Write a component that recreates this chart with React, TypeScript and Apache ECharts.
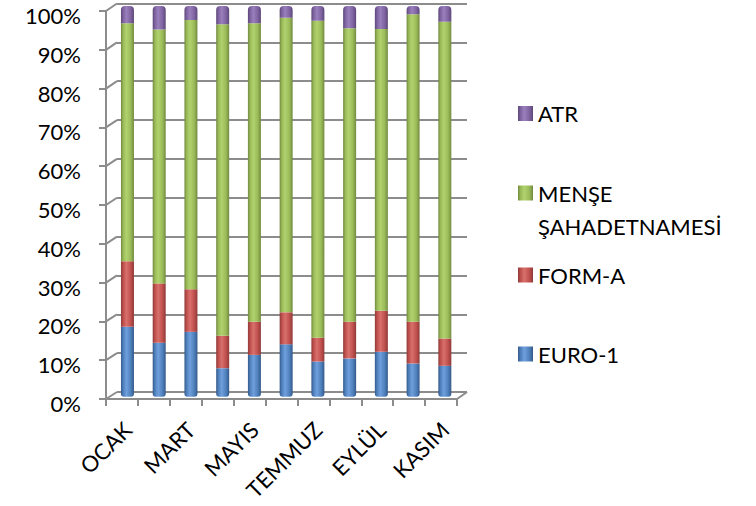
import React, { useEffect, useRef } from "react";
import * as echarts from "echarts";

const categories = ["OCAK", "ŞUBAT", "MART", "NİSAN", "MAYIS", "HAZİRAN", "TEMMUZ", "AĞUSTOS", "EYLÜL", "EKİM", "KASIM"];
const euro1 = [17.9, 13.8, 16.6, 7.3, 10.7, 13.4, 9.0, 9.8, 11.5, 8.5, 7.9];
const formA = [16.8, 15.2, 10.9, 8.3, 8.5, 8.2, 6.1, 9.4, 10.5, 10.7, 7.0];
const mense = [60.9, 65.0, 68.9, 79.7, 76.4, 75.4, 81.1, 75.1, 72.1, 78.7, 81.1];
const atr = [4.4, 6.0, 3.6, 4.7, 4.4, 3.0, 3.8, 5.7, 5.9, 2.1, 4.0];
const yTicks = [0, 10, 20, 30, 40, 50, 60, 70, 80, 90, 100];

const FONT = "Lato";
const FS = 22;
const GRIDC = "#8c8c8c";

function cyl(dark: string, light: string, base: string) {
  return new echarts.graphic.LinearGradient(0, 0, 1, 0, [
    { offset: 0, color: dark },
    { offset: 0.18, color: base },
    { offset: 0.42, color: light },
    { offset: 0.75, color: base },
    { offset: 1, color: dark },
  ]);
}

export default function App() {
  const ref = useRef<HTMLDivElement>(null);
  useEffect(() => {
    const chart = echarts.init(ref.current!, null, { renderer: "svg" });
    const legendBase = {
      orient: "vertical" as const,
      left: 518,
      padding: 0,
      itemWidth: 15,
      itemHeight: 15,
      icon: "rect",
      selectedMode: false,
      textStyle: { fontFamily: FONT, fontSize: FS, color: "#000", lineHeight: 24 },
    };
    chart.setOption({
      animation: false,
      backgroundColor: "#fff",
      grid: [
        { left: 117, right: 756 - 467, top: 3.5, bottom: 506 - 392 },
        { left: 106, right: 756 - 457, top: 11, bottom: 506 - 399 },
        { left: 111.6, right: 756 - 460.7, top: 6, bottom: 506 - 396.7 },
      ],
      xAxis: [
        { gridIndex: 0, type: "category", data: categories, show: false },
        {
          gridIndex: 1,
          type: "category",
          data: categories,
          axisLine: { lineStyle: { color: GRIDC, width: 2 } },
          axisTick: { show: true, interval: 0, length: 7, lineStyle: { color: GRIDC, width: 2 } },
          axisLabel: { show: false },
        },
        {
          gridIndex: 2,
          type: "category",
          data: categories,
          axisLine: { show: false },
          axisTick: { show: false },
          axisLabel: {
            interval: 1,
            rotate: 45,
            margin: 29,
            fontFamily: FONT,
            fontSize: FS,
            lineHeight: 20,
            color: "#000",
          },
        },
      ],
      yAxis: [
        {
          gridIndex: 0,
          type: "value",
          min: 0,
          max: 100,
          interval: 10,
          axisLine: { show: false },
          axisTick: { show: false },
          axisLabel: { show: false },
          splitLine: { show: true, lineStyle: { color: GRIDC, width: 2 } },
        },
        {
          gridIndex: 1,
          type: "value",
          min: 0,
          max: 100,
          interval: 10,
          axisLine: { show: true, lineStyle: { color: GRIDC, width: 2 } },
          axisTick: { show: true, length: 7, lineStyle: { color: GRIDC, width: 2 } },
          axisLabel: {
            formatter: "{value}%",
            margin: 25,
            fontFamily: FONT,
            fontSize: FS,
            verticalAlign: "top",
            lineHeight: 9,
            color: "#000",
          },
          splitLine: { show: false },
        },
        { gridIndex: 2, type: "value", min: 0, max: 100, show: false },
      ],
      legend: [
        { ...legendBase, top: 101.5, data: ["ATR"] },
        {
          ...legendBase,
          top: 193 - 49.5,
          data: ["MENŞE ŞAHADETNAMESİ"],
          formatter: () => " \nMENŞE\nŞAHADETNAMESİ",
          textStyle: { ...legendBase.textStyle, lineHeight: 33 },
        },
        { ...legendBase, top: 263, data: ["FORM-A"] },
        { ...legendBase, top: 342, data: ["EURO-1"] },
      ],
      series: [
        {
          name: "EURO-1",
          type: "bar",
          stack: "t",
          xAxisIndex: 2,
          yAxisIndex: 2,
          barWidth: 13,
          data: euro1,
          itemStyle: { color: cyl("#34598a", "#6f9fdc", "#4f81bd"), borderRadius: [0, 0, 3, 3] },
        },
        {
          name: "FORM-A",
          type: "bar",
          stack: "t",
          xAxisIndex: 2,
          yAxisIndex: 2,
          barWidth: 13,
          data: formA,
          itemStyle: { color: cyl("#8e3a38", "#d8706c", "#c0504d") },
        },
        {
          name: "MENŞE ŞAHADETNAMESİ",
          type: "bar",
          stack: "t",
          xAxisIndex: 2,
          yAxisIndex: 2,
          barWidth: 13,
          data: mense,
          itemStyle: { color: cyl("#718a3f", "#b0d26e", "#9bbb59") },
        },
        {
          name: "ATR",
          type: "bar",
          stack: "t",
          xAxisIndex: 2,
          yAxisIndex: 2,
          barWidth: 13,
          data: atr,
          itemStyle: { color: cyl("#5c4778", "#9a7fbd", "#8064a2"), borderRadius: [4, 4, 0, 0] },
        },
      ],
    });

    // 3D wall decoration: diagonals linking the front axis to the back wall
    const lines: any[] = [];
    const fx = chart.convertToPixel({ xAxisIndex: 1 }, categories[0]) as number;
    const bx = chart.convertToPixel({ xAxisIndex: 0 }, categories[0]) as number;
    const step = (chart.convertToPixel({ xAxisIndex: 1 }, categories[1]) as number) - fx;
    const frontLeft = fx - step / 2;
    const backLeft = bx - step / 2;
    const lastF = (chart.convertToPixel({ xAxisIndex: 1 }, categories[categories.length - 1]) as number) + step / 2;
    const lastB = (chart.convertToPixel({ xAxisIndex: 0 }, categories[categories.length - 1]) as number) + step / 2;
    yTicks.forEach((v) => {
      const yf = chart.convertToPixel({ yAxisIndex: 1 }, v) as number;
      const yb = chart.convertToPixel({ yAxisIndex: 0 }, v) as number;
      lines.push({
        type: "line",
        z: 1,
        shape: { x1: frontLeft, y1: yf, x2: backLeft, y2: yb },
        style: { stroke: GRIDC, lineWidth: 2 },
      });
    });
    const yf0 = chart.convertToPixel({ yAxisIndex: 1 }, 0) as number;
    const yb0 = chart.convertToPixel({ yAxisIndex: 0 }, 0) as number;
    lines.push({
      type: "line",
      z: 1,
      shape: { x1: lastF, y1: yf0, x2: lastB, y2: yb0 },
      style: { stroke: GRIDC, lineWidth: 2 },
    });
    chart.setOption({ graphic: lines });

    return () => chart.dispose();
  }, []);
  return <div ref={ref} style={{ position: "fixed", left: 0, top: 0, width: 756, height: 506 }} />;
}
